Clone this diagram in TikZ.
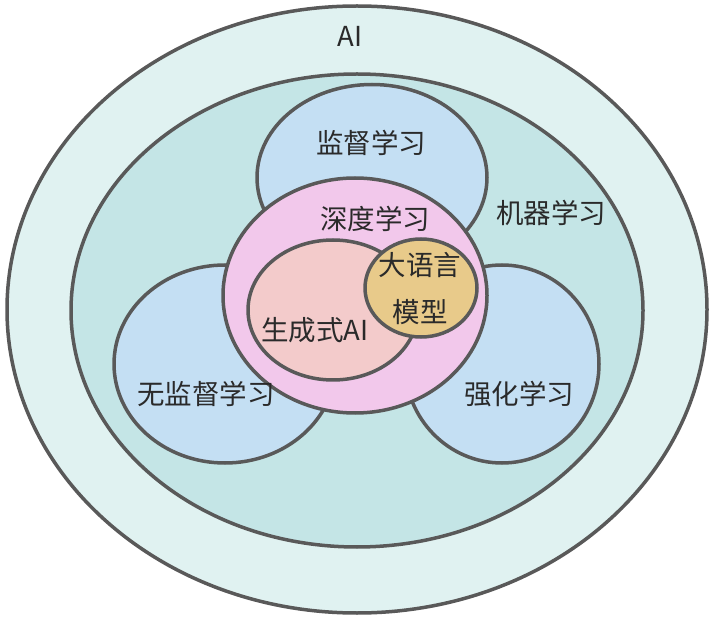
\documentclass[tikz,border=0pt]{standalone}
\usepackage{fontspec}
\newfontfamily\cjk{Noto Sans CJK SC}
\usetikzlibrary{shapes.geometric}
\definecolor{edge}{HTML}{595959}
\definecolor{txt}{HTML}{2A2A2A}
\definecolor{aifill}{HTML}{E0F2F1}
\definecolor{mlfill}{HTML}{C4E5E6}
\definecolor{bluefill}{HTML}{C4DFF3}
\definecolor{deepfill}{HTML}{F2C8EB}
\definecolor{genfill}{HTML}{F3CBCB}
\definecolor{llmfill}{HTML}{E8CA8A}
\begin{document}
\begin{tikzpicture}[x=1pt,y=-1pt,
  blob/.style={ellipse, draw=edge, line width=3.5pt, inner sep=0pt, outer sep=0pt},
  lbl/.style={font=\cjk\fontsize{27.5}{32}\selectfont, text=txt, inner sep=0pt}]
\useasboundingbox (0,0) rectangle (718,620);
\node[blob, fill=aifill, minimum width=700pt, minimum height=607pt] (ai) at (357,309.5) {};
\node[blob, fill=mlfill, minimum width=572pt, minimum height=473pt] (ml) at (357,310.5) {};
\node[blob, fill=bluefill, minimum width=230pt, minimum height=186pt] (sup) at (372,177.5) {};
\node[blob, fill=bluefill, minimum width=222pt, minimum height=198pt] (unsup) at (225,364) {};
\node[blob, fill=bluefill, minimum width=194pt, minimum height=198pt] (rl) at (502,364) {};
\node[blob, fill=deepfill, minimum width=264pt, minimum height=235pt] (deep) at (355,295.5) {};
\node[blob, fill=genfill, minimum width=170pt, minimum height=140pt] (gen) at (333,310) {};
\node[blob, fill=llmfill, minimum width=112pt, minimum height=98pt] (llm) at (421,288) {};
\node[lbl] (tai) at (350,36) {AI};
\node[lbl] (tml) at (551,213) {机器学习};
\node[lbl] (tsup) at (371,143) {监督学习};
\node[lbl] (tunsup) at (206,394) {无监督学习};
\node[lbl] (trl) at (519,394) {强化学习};
\node[lbl] (tdeep) at (375,219) {深度学习};
\node[lbl] (tgen) at (315,330) {生成式AI};
\node[lbl] (tllm1) at (420,265) {大语言};
\node[lbl] (tllm2) at (420,312) {模型};
\end{tikzpicture}
\end{document}
